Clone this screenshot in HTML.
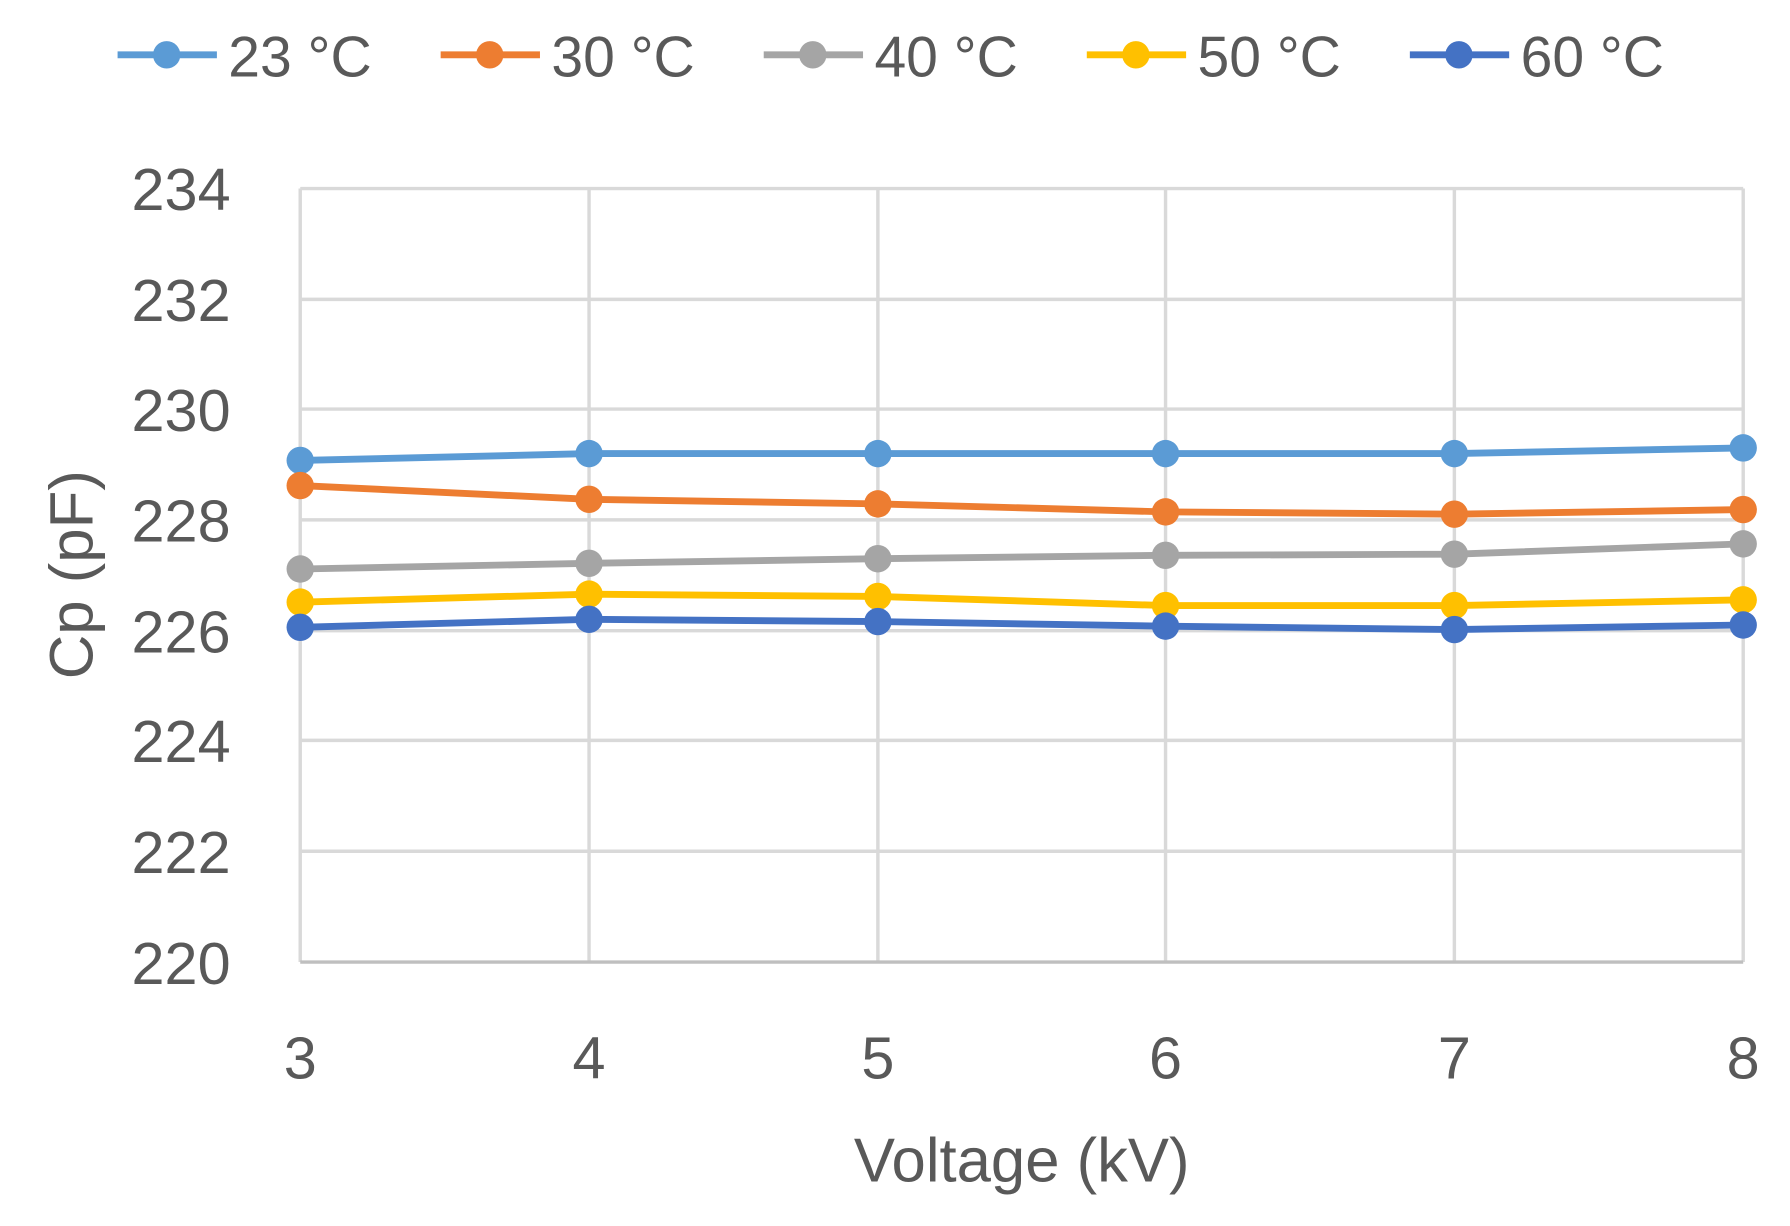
<!DOCTYPE html>
<html><head><meta charset="utf-8"><style>html,body{margin:0;padding:0;background:#fff}svg{display:block}</style></head><body>
<svg width="1790" height="1226" viewBox="0 0 1568 1073" preserveAspectRatio="none" xmlns="http://www.w3.org/2000/svg" font-family="Liberation Sans, sans-serif" fill="#595959">
<g stroke="#D9D9D9" stroke-width="3">
<line x1="263" y1="165" x2="1527" y2="165"/><line x1="263" y1="262" x2="1527" y2="262"/><line x1="263" y1="358" x2="1527" y2="358"/><line x1="263" y1="455" x2="1527" y2="455"/><line x1="263" y1="552" x2="1527" y2="552"/><line x1="263" y1="648" x2="1527" y2="648"/><line x1="263" y1="745" x2="1527" y2="745"/>
<line x1="263" y1="165" x2="263" y2="842"/><line x1="516" y1="165" x2="516" y2="842"/><line x1="769" y1="165" x2="769" y2="842"/><line x1="1021" y1="165" x2="1021" y2="842"/><line x1="1274" y1="165" x2="1274" y2="842"/><line x1="1527" y1="165" x2="1527" y2="842"/>
<line x1="263" y1="842" x2="1527" y2="842" stroke="#BFBFBF"/>
</g>
<g font-size="52" text-anchor="end">
<text x="202" y="184">234</text><text x="202" y="281">232</text><text x="202" y="377">230</text><text x="202" y="474">228</text><text x="202" y="571">226</text><text x="202" y="667">224</text><text x="202" y="764">222</text><text x="202" y="861">220</text>
</g>
<g font-size="52" text-anchor="middle">
<text x="263" y="944">3</text><text x="516" y="944">4</text><text x="769" y="944">5</text><text x="1021" y="944">6</text><text x="1274" y="944">7</text><text x="1527" y="944">8</text>
</g>
<g font-size="54" text-anchor="middle">
<text x="895" y="1034">Voltage (kV)</text>
<text transform="translate(81,503) rotate(-90)">Cp (pF)</text>
</g>
<g fill="none" stroke-width="6" stroke-linejoin="round">
<polyline stroke="#5B9BD5" points="263,403 516,397 769,397 1021,397 1274,397 1527,392"/>
<polyline stroke="#ED7D31" points="263,425 516,437 769,441 1021,448 1274,450 1527,446"/>
<polyline stroke="#A5A5A5" points="263,498 516,493 769,489 1021,486 1274,485 1527,476"/>
<polyline stroke="#FFC000" points="263,527 516,520 769,522 1021,530 1274,530 1527,525"/>
<polyline stroke="#4472C4" points="263,549 516,542 769,544 1021,548 1274,551 1527,547"/>
</g>
<g fill="#5B9BD5"><circle cx="263" cy="403" r="12"/><circle cx="516" cy="397" r="12"/><circle cx="769" cy="397" r="12"/><circle cx="1021" cy="397" r="12"/><circle cx="1274" cy="397" r="12"/><circle cx="1527" cy="392" r="12"/></g>
<g fill="#ED7D31"><circle cx="263" cy="425" r="12"/><circle cx="516" cy="437" r="12"/><circle cx="769" cy="441" r="12"/><circle cx="1021" cy="448" r="12"/><circle cx="1274" cy="450" r="12"/><circle cx="1527" cy="446" r="12"/></g>
<g fill="#A5A5A5"><circle cx="263" cy="498" r="12"/><circle cx="516" cy="493" r="12"/><circle cx="769" cy="489" r="12"/><circle cx="1021" cy="486" r="12"/><circle cx="1274" cy="485" r="12"/><circle cx="1527" cy="476" r="12"/></g>
<g fill="#FFC000"><circle cx="263" cy="527" r="12"/><circle cx="516" cy="520" r="12"/><circle cx="769" cy="522" r="12"/><circle cx="1021" cy="530" r="12"/><circle cx="1274" cy="530" r="12"/><circle cx="1527" cy="525" r="12"/></g>
<g fill="#4472C4"><circle cx="263" cy="549" r="12"/><circle cx="516" cy="542" r="12"/><circle cx="769" cy="544" r="12"/><circle cx="1021" cy="548" r="12"/><circle cx="1274" cy="551" r="12"/><circle cx="1527" cy="547" r="12"/></g>
<g font-size="50">
<line x1="103" y1="48" x2="190" y2="48" stroke="#5B9BD5" stroke-width="6"/><circle cx="146" cy="48" r="12" fill="#5B9BD5"/><text x="200" y="67">23 °C</text>
<line x1="386" y1="48" x2="473" y2="48" stroke="#ED7D31" stroke-width="6"/><circle cx="429" cy="48" r="12" fill="#ED7D31"/><text x="483" y="67">30 °C</text>
<line x1="669" y1="48" x2="756" y2="48" stroke="#A5A5A5" stroke-width="6"/><circle cx="712" cy="48" r="12" fill="#A5A5A5"/><text x="766" y="67">40 °C</text>
<line x1="952" y1="48" x2="1039" y2="48" stroke="#FFC000" stroke-width="6"/><circle cx="995" cy="48" r="12" fill="#FFC000"/><text x="1049" y="67">50 °C</text>
<line x1="1235" y1="48" x2="1322" y2="48" stroke="#4472C4" stroke-width="6"/><circle cx="1278" cy="48" r="12" fill="#4472C4"/><text x="1332" y="67">60 °C</text>
</g>
</svg>
</body></html>
